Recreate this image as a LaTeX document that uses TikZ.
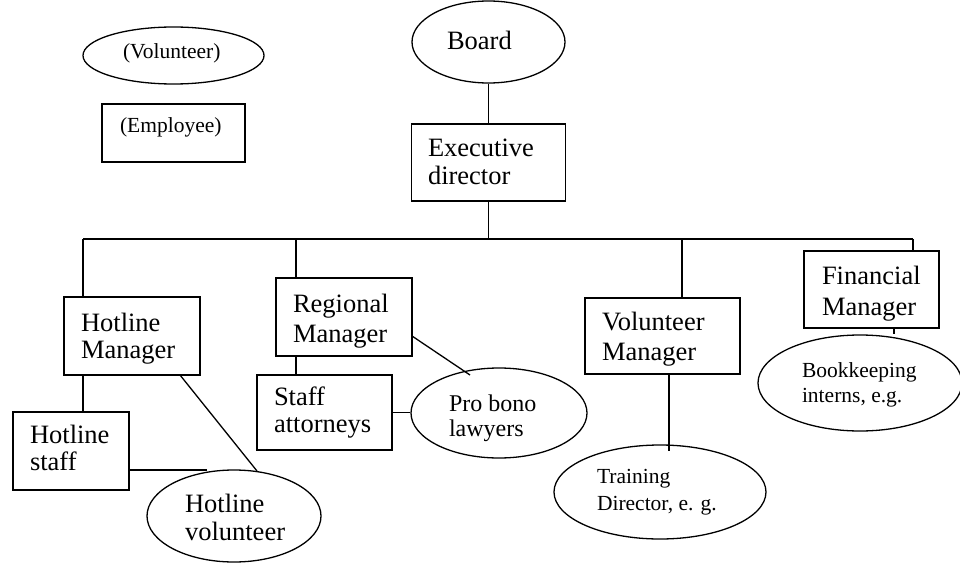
\documentclass[tikz,border=0pt]{standalone}
\usepackage{fontspec}
\setmainfont{Liberation Serif}
\usetikzlibrary{shapes.geometric}
\newcommand\txtlines[3]{{\fontsize{#1}{#2}\selectfont\begin{tabular}[t]{@{}l@{}}#3\end{tabular}}}
\begin{document}
\begin{tikzpicture}[x=1pt,y=-1pt,line width=1.3pt,
  box/.style={draw,rectangle,inner sep=0pt},
  oval/.style={draw,ellipse,inner sep=0pt},
  txt/.style={anchor=base west,inner sep=0pt,outer sep=0pt}]
\useasboundingbox (0,0) rectangle (960,564);
% legend
\node[oval,minimum width=181,minimum height=57] (vol) at (173.5,55.5) {};
\node[box,minimum width=143,minimum height=58] (emp) at (173.5,133) {};
% main shapes
\node[oval,minimum width=153,minimum height=82] (board) at (488.5,42) {};
\node[box,minimum width=154,minimum height=77] (exec) at (488.5,162.5) {};
\node[box,minimum width=136,minimum height=78] (hm) at (132,336) {};
\node[box,minimum width=136,minimum height=78] (rm) at (344,317) {};
\node[box,minimum width=155,minimum height=76] (vm) at (662.5,336) {};
\node[box,minimum width=135,minimum height=77] (fm) at (871.5,289.5) {};
\node[box,minimum width=116,minimum height=78] (hs) at (71,451) {};
\node[box,minimum width=135,minimum height=75] (sa) at (324.5,412.5) {};
\node[oval,minimum width=174,minimum height=92] (hv) at (234,516) {};
\node[oval,minimum width=176,minimum height=90] (pb) at (499,413) {};
\node[oval,minimum width=212,minimum height=94] (td) at (660,492) {};
\node[oval,minimum width=204,minimum height=96] (bk) at (860,383) {};
% texts
\node[txt] (tvol) at (123,59) {\txtlines{21.5}{26}{(Volunteer)}};
\node[txt] (temp) at (120,133) {\txtlines{21.5}{26}{(Employee)}};
\node[txt] (tboard) at (447,50) {\txtlines{26.5}{28}{Board}};
\node[txt] (texec) at (428,157) {\txtlines{26.5}{28}{Executive\\director}};
\node[txt] (thm) at (81,331) {\txtlines{26.5}{27}{Hotline\\Manager}};
\node[txt] (trm) at (293,312) {\txtlines{26.5}{30}{Regional\\Manager}};
\node[txt] (tvm) at (602,330) {\txtlines{26.5}{30}{Volunteer\\Manager}};
\node[txt] (tfm) at (822,284) {\txtlines{26.5}{31}{Financial\\Manager}};
\node[txt] (ths) at (30,443) {\txtlines{26.5}{27}{Hotline\\staff}};
\node[txt] (tsa) at (274,405) {\txtlines{26.5}{27}{Staff\\attorneys}};
\node[txt] (thv) at (185,512) {\txtlines{26.5}{28}{Hotline\\volunteer}};
\node[txt] (tpb) at (449,411) {\txtlines{24}{25}{Pro bono\\lawyers}};
\node[txt] (ttd) at (597,483) {\txtlines{21.5}{27}{Training\\Director, e. g.}};
\node[txt] (tbk) at (802,377) {\txtlines{21.5}{25}{Bookkeeping\\interns, e.g.}};
% connector points
\coordinate (bL) at (83,239);
\coordinate (bR) at (913,239);
\coordinate (bRM) at (296,239);
\coordinate (bVM) at (682,239);
\coordinate (rmP) at (412,336);
\coordinate (pbT) at (470,375);
\coordinate (hmB) at (180,375);
\coordinate (hvT) at (257,471);
\coordinate (hsR) at (129,470);
\coordinate (hvL) at (207,470);
\coordinate (vmB) at (669,374);
\coordinate (tdT) at (669,451);
\coordinate (fmB) at (894,328);
% connectors
\draw (board.south) -- (exec.north);
\draw (exec.south) -- (exec.south |- bL);
\draw (bL) -- (bR);
\draw (bR) -- (bR |- fm.north);
\draw (bL) -- (bL |- hm.north);
\draw (bRM) -- (bRM |- rm.north);
\draw (bVM) -- (bVM |- vm.north);
\draw (bL |- hm.south) -- (bL |- hs.north);
\draw (bRM |- rm.south) -- (bRM |- sa.north);
\draw (sa.east) -- (sa.east -| pb.west);
\draw (rmP) -- (pbT);
\draw (hmB) -- (hvT);
\draw (hsR) -- (hvL);
\draw (vmB) -- (tdT);
\draw (fmB) -- (fmB |- bk.north);
\end{tikzpicture}
\end{document}
